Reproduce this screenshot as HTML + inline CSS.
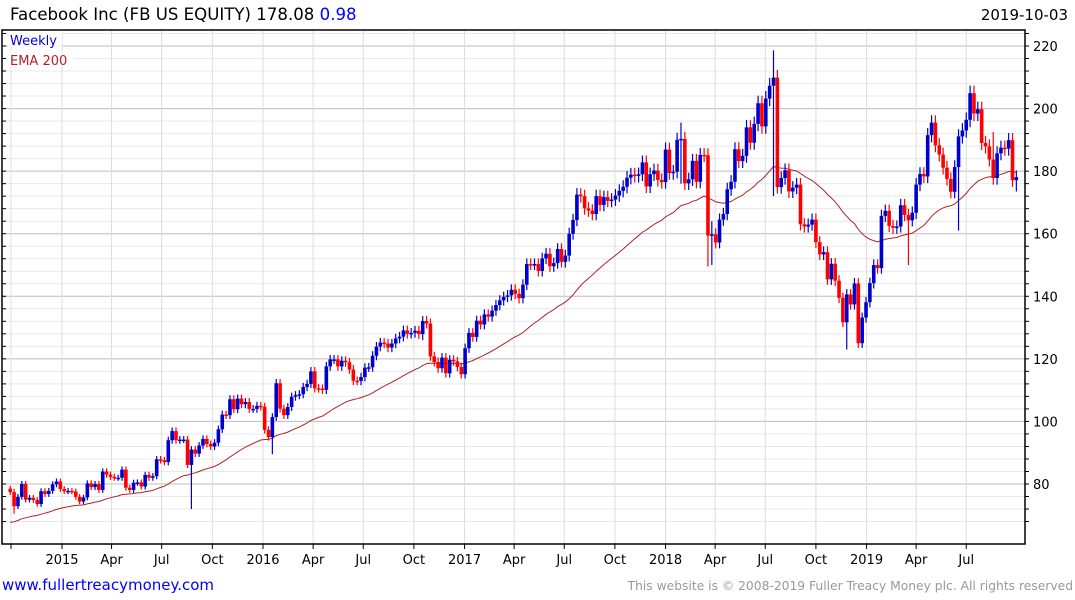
<!DOCTYPE html>
<html><head><meta charset="utf-8"><style>
html,body{margin:0;padding:0;background:#fff;}
svg{display:block;font-family:"DejaVu Sans","Liberation Sans",sans-serif;}
</style></head><body>
<svg id="chart" width="1075" height="600" viewBox="0 0 1075 600">
<text x="10" y="20" font-size="16.6" fill="#000">Facebook Inc (FB US EQUITY) 178.08 <tspan fill="#0000ff">0.98</tspan></text>
<text x="1068" y="20" font-size="15" fill="#000" text-anchor="end">2019-10-03</text>
<g id="grid"></g>
<g id="ema"></g>
<g id="candles"></g>
<g id="axes"></g>
<rect x="8" y="31" width="54" height="16" fill="#fff" opacity="0.85"/>
<text x="10" y="45" font-size="13" fill="#0000dd">Weekly</text>
<rect x="8" y="51" width="66" height="16" fill="#fff" opacity="0.85"/>
<text x="10" y="65" font-size="13" fill="#b22222">EMA 200</text>
<text x="2" y="590" font-size="15" fill="#0000ff">www.fullertreacymoney.com</text>
<text x="1073" y="590" font-size="12.3" fill="#999" text-anchor="end">This website is © 2008-2019 Fuller Treacy Money plc. All rights reserved</text>
</svg>
<script>
// weekly closes from week ending 2014-10-03
const closes = [77.4,72.9,75.9,80.0,75.0,75.6,74.9,73.6,77.7,76.8,77.8,79.9,80.8,78.4,
77.7,77.8,77.6,75.9,74.4,75.7,80.2,79.0,80.0,78.1,84.0,83.0,82.3,82.0,82.0,84.6,78.8,78.1,80.4,80.5,79.2,82.9,82.0,82.5,87.9,87.6,87.0,94.0,96.9,94.0,94.2,94.2,86.1,91.0,89.7,92.3,94.4,92.8,92.0,93.2,97.5,102.2,102.0,107.1,103.9,107.3,105.5,106.2,104.0,104.0,105.0,104.7,
97.3,95.0,101.4,112.2,104.1,102.0,104.6,107.9,108.4,108.7,111.0,112.0,116.0,110.6,110.5,110.1,117.6,119.8,119.8,117.6,119.4,118.9,116.6,113.0,112.9,114.2,117.2,117.3,121.0,123.9,125.2,124.9,123.6,124.9,126.5,127.1,129.1,128.0,128.3,129.0,127.9,132.1,131.3,120.8,119.0,117.0,120.4,115.4,119.7,119.2,117.4,115.1,
123.4,128.3,127.0,132.2,131.0,134.2,133.5,135.4,137.2,138.7,139.8,140.3,142.1,140.8,139.4,143.7,150.3,150.2,150.3,148.1,152.1,153.6,149.6,150.6,155.1,151.0,153.0,160.0,164.4,172.5,172.0,168.1,167.4,166.3,172.0,169.2,171.7,170.5,170.9,172.2,173.7,175.0,177.9,178.9,178.5,179.0,182.8,175.1,179.0,180.2,177.2,176.5,
186.9,179.4,179.8,190.0,190.3,176.1,177.4,183.3,176.6,185.2,185.1,159.4,159.8,157.2,164.5,166.3,174.2,176.6,187.0,183.2,184.9,194.0,189.1,195.1,201.7,194.3,203.2,207.3,209.9,174.9,177.8,180.3,173.5,174.7,175.7,163.0,162.3,162.9,164.5,157.3,153.4,154.1,145.4,150.4,145.0,139.5,131.7,140.6,137.4,144.1,125.0,133.2,
138.1,144.2,150.0,149.0,165.7,167.3,162.5,161.9,162.3,169.1,166.0,164.3,166.7,175.7,179.1,178.3,191.5,195.5,188.3,185.3,181.1,177.5,173.4,181.3,191.1,193.0,196.4,204.9,198.4,199.8,189.0,187.9,183.7,177.8,185.7,187.5,187.2,189.9,177.1,178.08];
// notable wick extremes: [weekIndex, high, low]
const extremes = [[1,78.5,70.5],[47,92,72.0],[68,100,89.5],[107,133.5,126],[174,195.5,176],[181,186,149.5],[182,164,150],[198,218.6,172],[217,140,123],[246,183,161],[233,152,150],[255,192.5,176],[261,180,173.5]];
const startDay = -94; // days from 2015-01-01 to first week
const yTicks = [80,100,120,140,160,180,200,220];
const xTickLabels = ["2015","Apr","Jul","Oct","2016","Apr","Jul","Oct","2017","Apr","Jul","Oct","2018","Apr","Jul","Oct","2019","Apr","Jul"];
const xTickDays = [0,90,181,273,365,456,547,639,731,821,912,1004,1096,1186,1277,1369,1461,1551,1642];

const NS="http://www.w3.org/2000/svg";
const L=2,R=1025,T=30,B=544;
const y=p=>484-(p-80)*3.1286;
const x=d=>62+d*0.5507;
const xi=i=>x(startDay+7*i);
function mk(tag,attrs,parent){const e=document.createElementNS(NS,tag);for(const k in attrs)e.setAttribute(k,attrs[k]);parent.appendChild(e);return e;}
const grid=document.getElementById('grid'),axes=document.getElementById('axes'),cg=document.getElementById('candles'),eg=document.getElementById('ema');
for(let p=68;p<=224;p+=4){const yy=y(p);if(yy<T||yy>B)continue;
 const ln=mk('line',{x1:L,x2:R,y1:yy,y2:yy,stroke:(p%20===0)?'#bdbdbd':'#e8e8e8','stroke-width':1},grid);
 
 
 mk('line',{x1:L,x2:L+4,y1:yy,y2:yy,stroke:'#000'},axes);
 mk('line',{x1:R,x2:R+4,y1:yy,y2:yy,stroke:'#000'},axes);
}
mk('line',{x1:11,x2:11,y1:T,y2:B,stroke:'#e0e0e0'},grid);
mk('line',{x1:11,x2:11,y1:B,y2:B+5,stroke:'#000'},axes);
xTickDays.forEach((d,i)=>{const xx=x(d);
 mk('line',{x1:xx,x2:xx,y1:T,y2:B,stroke:'#dcdcdc'},grid);
 mk('line',{x1:xx,x2:xx,y1:B,y2:B+5,stroke:'#000'},axes);
 const t=mk('text',{x:xx,y:564,'font-size':13,'text-anchor':'middle',fill:'#000'},axes);
 t.textContent=xTickLabels[i];
 
 
});
yTicks.forEach(p=>{const t=mk('text',{x:1033,y:y(p)+5,'font-size':13,fill:'#000'},axes);t.textContent=p;
 
 });
mk('path',{d:`M${L},${T}H${R}V${B}H${L}Z`,fill:'none',stroke:'#000','stroke-width':1.5},axes);
let e=67.2;const a=2/41;let pts=[];
closes.forEach((c,i)=>{e=e+a*(c-e);pts.push(xi(i).toFixed(1)+','+y(e).toFixed(1));});
const pl=mk('polyline',{points:pts.join(' '),fill:'none',stroke:'#b22222','stroke-width':1},eg);


const ex={};extremes.forEach(r=>ex[r[0]]=r);
closes.forEach((c,i)=>{
 const o=i===0?78.5:closes[i-1];
 const hi=Math.max(o,c),lo=Math.min(o,c);
 let h=hi*1.012,l=lo*0.988;
 if(ex[i]){h=Math.max(h,ex[i][1]);l=Math.min(l,ex[i][2]);}
 const col=c>=o?'#0000cc':'#ff0000';const xx=xi(i);
 const g=mk('g',{},cg);
 
 
 mk('line',{x1:xx,x2:xx,y1:y(h),y2:y(l),stroke:col,'stroke-width':1.2},g);
 const bh=Math.max(1.5,y(lo)-y(hi));
 mk('rect',{x:xx-1.8,y:y(hi),width:3.6,height:bh,fill:col},g);
});
</script>
</body></html>
